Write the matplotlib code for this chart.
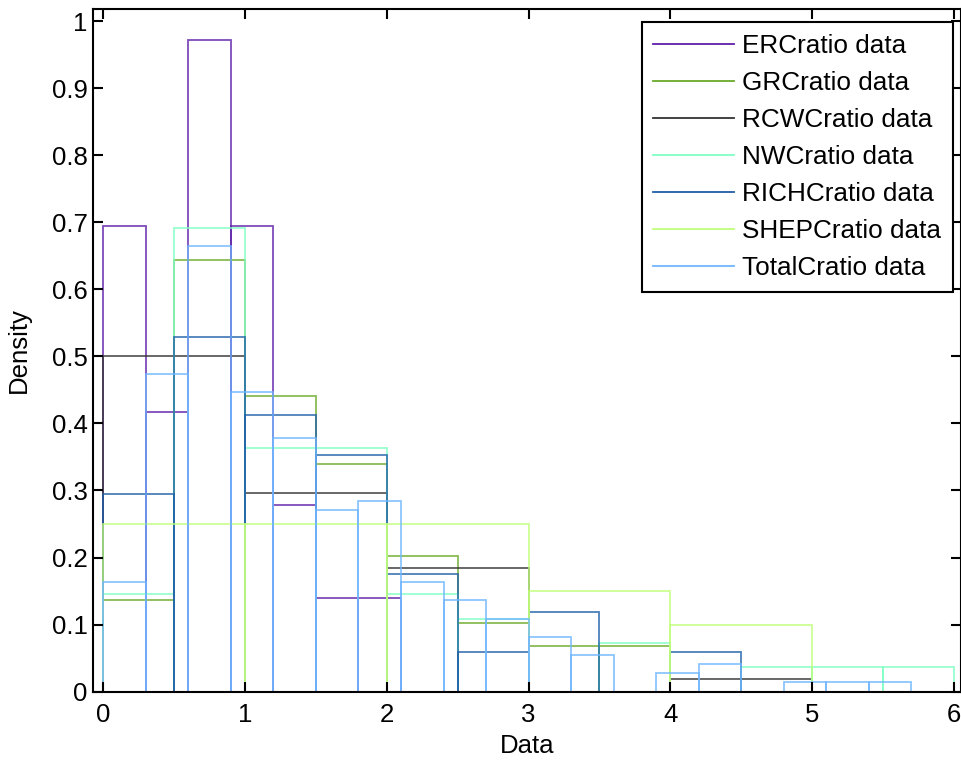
import matplotlib.pyplot as plt
from matplotlib.lines import Line2D

plt.rcParams['font.family'] = ['Liberation Sans', 'DejaVu Sans']

# bin start, bin width and density for each series
names = ["ERCratio data", "GRCratio data", "RCWCratio data", "NWCratio data",
         "RICHCratio data", "SHEPCratio data", "TotalCratio data"]
colors = ["#5e1ea8", "#6aaa2a", "#333333", "#7fffc4", "#1f5fa8", "#c0ff7a", "#70b6ff"]
widths = [0.3, 0.5, 1.0, 0.5, 0.5, 1.0, 0.3]

erc = [0.694, 0.417, 0.972, 0.694, 0.278, 0.139, 0.139]
grc = [0.136, 0.644, 0.441, 0.339, 0.203, 0.102, 0.068, 0.068]
rcw = [0.500, 0.296, 0.185, 0.0, 0.019, 0.0]
nwc = [0.145, 0.691, 0.364, 0.364, 0.145, 0.109, 0.0, 0.073, 0.0, 0.036, 0.036, 0.036]
rich = [0.294, 0.529, 0.412, 0.353, 0.176, 0.059, 0.118, 0.0, 0.059]
shep = [0.25, 0.25, 0.25, 0.15, 0.10]
total = [0.163, 0.474, 0.664, 0.447, 0.379, 0.271, 0.285, 0.163, 0.136, 0.108,
         0.081, 0.054, 0.0, 0.027, 0.041, 0.0, 0.014, 0.014, 0.014]
series = [erc, grc, rcw, nwc, rich, shep, total]

fig = plt.figure(figsize=(9.62, 7.6), dpi=100)
ax = fig.add_axes([0.097, 0.09, 0.902, 0.898])

for vals, w, c in zip(series, widths, colors):
    lefts = [i * w for i in range(len(vals))]
    ax.bar(lefts, vals, width=w, align='edge', fill=False,
           edgecolor=c, linewidth=1.3, alpha=0.8)

ax.set_xlim(-0.07, 6.05)
ax.set_ylim(0, 1.018)
ax.set_xticks(range(7))
ax.set_yticks([i / 10 for i in range(11)])
ax.set_yticklabels(["0", "0.1", "0.2", "0.3", "0.4", "0.5", "0.6", "0.7", "0.8", "0.9", "1"])
ax.tick_params(direction='in', length=7.5, width=1.5, labelsize=18.5,
               top=True, right=True, pad=4)
ax.tick_params(axis='x', pad=8)
for s in ax.spines.values():
    s.set_linewidth(1.5)
ax.set_xlabel("Data", fontsize=18.5, labelpad=5)
ax.set_ylabel("Density", fontsize=18.5, labelpad=15)

handles = [Line2D([], [], color=c, linewidth=1.3) for c in colors]
leg = ax.legend(handles, names, loc='upper right', fontsize=18.8,
                bbox_to_anchor=(953 / 962, 1 - 22 / 760),
                bbox_transform=fig.transFigure, borderaxespad=0,
                fancybox=False, framealpha=1, edgecolor='black',
                handlelength=3.1, handletextpad=0.3, labelspacing=0.5,
                borderpad=0.45)
leg.get_frame().set_linewidth(1.5)

fig.savefig("out.png", dpi=100)
